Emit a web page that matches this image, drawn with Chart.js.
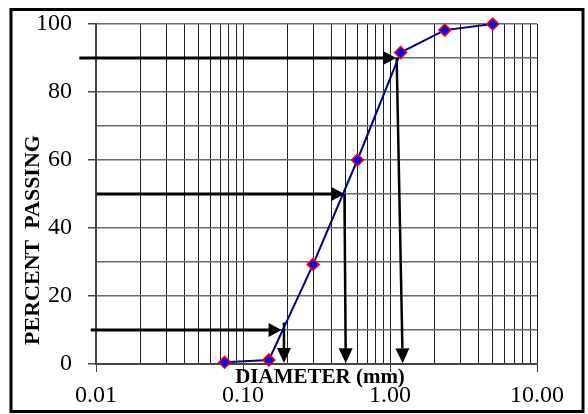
<!DOCTYPE html>
<html>
<head>
<meta charset="utf-8">
<script src="https://cdn.jsdelivr.net/npm/chart.js@4/dist/chart.umd.min.js"></script>
<style>
  html, body { margin: 0; padding: 0; background: #fff; }
  #wrap { width: 588px; height: 414px; }
</style>
</head>
<body>
<div id="wrap"><canvas id="gradation"></canvas></div>
<script>
// sieve sizes (mm) and percent passing
var sieveSizes = [0.075, 0.15, 0.3, 0.6, 1.18, 2.36, 5.0];
var percentPassing = [0.5, 1.2, 29.3, 60, 91.6, 98.2, 100];

// x axis labels at each decade
var xMajorTicks = [0.01, 0.1, 1, 10];
var xTickLabels = ["0.01", "0.10", "1.00", "10.00"];
var yLabelTicks = [0, 20, 40, 60, 80, 100];

// D90 / D50 / D10 reading arrows (percent level, x where the arrows start/end)
var arrowLevels = [90, 50, 10];
var arrowStartX = [0.0077, 0.0101, 0.0092];
var arrowTipX = [1.10, 0.49, 0.183];
var dropTopX = [1.11, 0.49, 0.19];
var dropTopY = [90, 50, 12.2];
var dropBottomX = [1.22, 0.50, 0.19];
var dropBottomY = [0.2, 0.2, 0.3];

var serif = "'Liberation Serif', 'Times New Roman', serif";

function arrow(ctx, x1, y1, x2, y2, lw, headLen, headW) {
    var ang = Math.atan2(y2 - y1, x2 - x1);
    var bx = x2 - Math.cos(ang) * headLen;
    var by = y2 - Math.sin(ang) * headLen;
    ctx.save();
    ctx.strokeStyle = "#000";
    ctx.fillStyle = "#000";
    ctx.lineWidth = lw;
    ctx.beginPath();
    ctx.moveTo(x1, y1);
    ctx.lineTo(bx, by);
    ctx.stroke();
    ctx.beginPath();
    ctx.moveTo(x2, y2);
    ctx.lineTo(bx - Math.sin(ang) * headW / 2, by + Math.cos(ang) * headW / 2);
    ctx.lineTo(bx + Math.sin(ang) * headW / 2, by - Math.cos(ang) * headW / 2);
    ctx.closePath();
    ctx.fill();
    ctx.restore();
}

var readingArrows = {
    id: "readingArrows",
    beforeDatasetsDraw: function(chart) {
        var ctx = chart.ctx, xs = chart.scales.x, ys = chart.scales.y;
        for (var i = 0; i < arrowLevels.length; i++) {
            var y = ys.getPixelForValue(arrowLevels[i]);
            arrow(ctx, xs.getPixelForValue(arrowStartX[i]), y,
                  xs.getPixelForValue(arrowTipX[i]), y, 3, 13, 14);
            arrow(ctx, xs.getPixelForValue(dropTopX[i]), ys.getPixelForValue(dropTopY[i]),
                  xs.getPixelForValue(dropBottomX[i]), ys.getPixelForValue(dropBottomY[i]), 2.5, 15, 14);
        }
    }
};

var frameAndTitles = {
    id: "frameAndTitles",
    beforeDraw: function(chart) {
        var ctx = chart.ctx;
        ctx.save();
        ctx.fillStyle = "#fff";
        ctx.fillRect(0, 0, chart.width, chart.height);
        ctx.restore();
    },
    afterDraw: function(chart) {
        var ctx = chart.ctx;
        ctx.save();
        ctx.strokeStyle = "#000";
        ctx.lineWidth = 3;
        ctx.strokeRect(11, 9.5, 572, 402);

        ctx.fillStyle = "#000";
        ctx.font = "bold 21px " + serif;
        ctx.textAlign = "center";
        ctx.textBaseline = "alphabetic";
        ctx.fillText("DIAMETER (mm)", 320, 383);

        ctx.translate(39, 240);
        ctx.rotate(-Math.PI / 2);
        ctx.font = "bold 22px " + serif;
        ctx.fillText("PERCENT  PASSING", 0, 0);
        ctx.restore();
    }
};

new Chart(document.getElementById("gradation").getContext("2d"), {
    type: "line",
    data: {
        datasets: [{
            data: sieveSizes.map(function(s, i) {
                return { x: s, y: percentPassing[i] };
            }),
            borderColor: "#000080",
            borderWidth: 2,
            backgroundColor: "#0000ff",
            pointStyle: "rectRot",
            pointRadius: 6,
            pointBorderColor: "#ff0000",
            pointBorderWidth: 1.5,
            tension: 0,
            clip: false
        }]
    },
    options: {
        responsive: true,
        maintainAspectRatio: false,
        animation: false,
        layout: { autoPadding: false, padding: { left: 10, top: 24, right: 51, bottom: 0 } },
        plugins: {
            legend: { display: false },
            tooltip: { enabled: false }
        },
        scales: {
            x: {
                type: "logarithmic",
                min: 0.01,
                max: 10,
                afterBuildTicks: function(scale) {
                    var ticks = [];
                    for (var e = -2; e <= 0; e++) {
                        for (var m = 1; m <= 9; m++) {
                            ticks.push({ value: Number((m * Math.pow(10, e)).toPrecision(3)) });
                        }
                    }
                    ticks.push({ value: 10 });
                    scale.ticks = ticks;
                },
                afterFit: function(scale) { scale.height = 50; },
                border: { color: "#444", width: 2 },
                grid: {
                    color: "#222",
                    lineWidth: 1,
                    tickLength: 8,
                    tickColor: function(c) {
                        return xMajorTicks.indexOf(c.tick.value) >= 0 ? "#444" : "rgba(0,0,0,0)";
                    }
                },
                ticks: {
                    autoSkip: false,
                    maxRotation: 0,
                    padding: 9,
                    color: "#000",
                    font: { family: serif, size: 24 },
                    callback: function(value) {
                        var k = xMajorTicks.indexOf(value);
                        return k >= 0 ? xTickLabels[k] : "";
                    }
                }
            },
            y: {
                min: 0,
                max: 100,
                afterFit: function(scale) { scale.width = 86; },
                border: { color: "#444", width: 2 },
                grid: {
                    color: "#6a6a6a",
                    lineWidth: 1.5,
                    tickLength: 8,
                    tickColor: function(c) {
                        return yLabelTicks.indexOf(c.tick.value) >= 0 ? "#444" : "rgba(0,0,0,0)";
                    }
                },
                ticks: {
                    stepSize: 5,
                    padding: 16,
                    color: "#000",
                    // single-line labels, small lineHeight keeps the top padding down
                    font: { family: serif, size: 24, lineHeight: 0.6 },
                    callback: function(value) {
                        return yLabelTicks.indexOf(value) >= 0 ? String(value) : "";
                    }
                }
            }
        }
    },
    plugins: [frameAndTitles, readingArrows]
});
</script>
</body>
</html>
